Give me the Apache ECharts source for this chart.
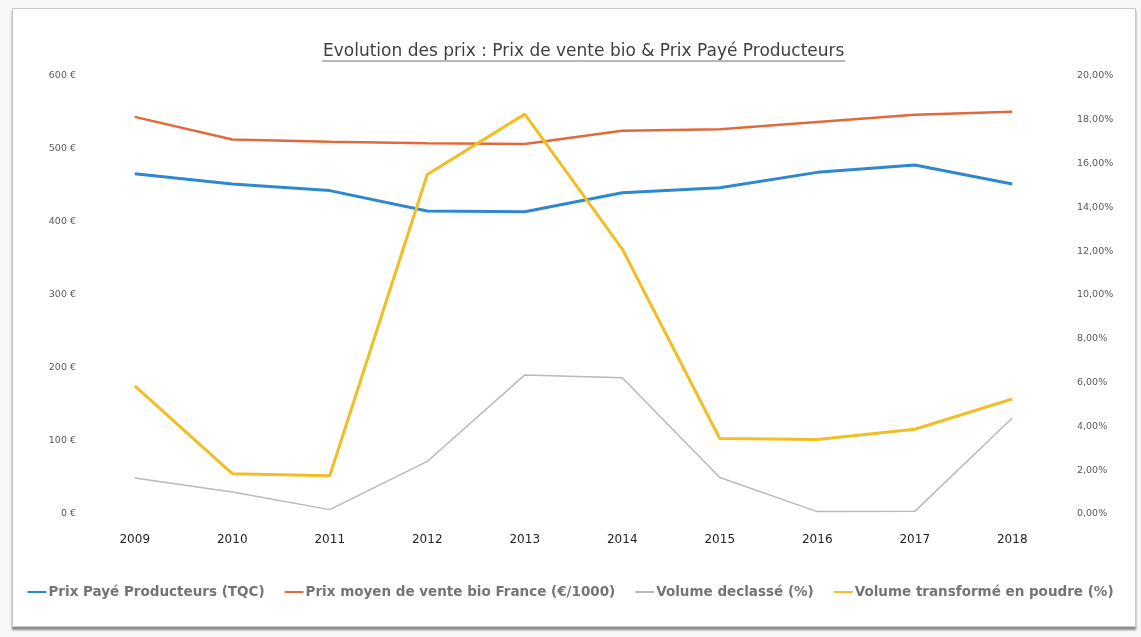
<!DOCTYPE html>
<html>
<head>
<meta charset="utf-8">
<script src="https://cdn.jsdelivr.net/npm/echarts@6/dist/echarts.min.js"></script>
<style>
  html, body { margin: 0; padding: 0; background: #f7f7f7; }
  #frame { position: absolute; left: 12px; top: 8px; width: 1122px; height: 617px;
           background: #ffffff; border: 1px solid #c8c8c8; box-shadow: 0 3px 2px #8a8a8a; }
  #main { position: absolute; left: 0; top: 0; width: 1141px; height: 637px; }
</style>
</head>
<body>
<div id="frame"></div>
<div id="main"></div>
<script>
// ---- data ----
const years = ['2009', '2010', '2011', '2012', '2013', '2014', '2015', '2016', '2017', '2018'];
const prixPaye = [466, 452, 443, 415, 414, 440, 447, 468, 478, 452];           // €
const prixVente = [544, 513, 510, 508, 507, 525, 527, 537, 547, 551];          // €
const volumeDeclasse = [1.64, 1.0, 0.2, 2.4, 6.35, 6.22, 1.67, 0.11, 0.12, 4.38]; // %
const volumePoudre = [5.85, 1.84, 1.75, 15.5, 18.26, 12.1, 3.45, 3.4, 3.87, 5.25]; // %
const seriesNames = ['Prix Payé Producteurs (TQC)', 'Prix moyen de vente bio France (€/1000)',
                     'Volume declassé (%)', 'Volume transformé en poudre (%)'];
const titleText = 'Evolution des prix : Prix de vente bio & Prix Payé Producteurs';

const FONT = '"DejaVu Sans", "Liberation Sans", sans-serif';
const chart = echarts.init(document.getElementById('main'), null, { renderer: 'canvas' });

chart.setOption({
  backgroundColor: 'transparent',
  animation: false,
  title: {
    text: titleText,
    left: 318,
    top: 38,
    textStyle: { fontFamily: FONT, fontSize: 17, fontWeight: 'normal', color: '#404040' }
  },
  graphic: [{
    type: 'line',
    shape: { x1: 322, y1: 61, x2: 845, y2: 61 },
    style: { stroke: '#707070', lineWidth: 1 }
  }],
  legend: {
    data: seriesNames,
    top: 580,
    left: 'center',
    icon: 'rect',
    itemWidth: 19,
    itemHeight: 2,
    itemGap: 20,
    textStyle: { fontFamily: FONT, fontSize: 13.5, fontWeight: 'bold', color: '#747474',
                 padding: [0, 0, 0, -3] }
  },
  grid: { left: 86, right: 80, top: 76, bottom: 123, containLabel: false },
  xAxis: {
    type: 'category',
    data: years,
    boundaryGap: true,
    axisLine: { show: false },
    axisTick: { show: false },
    axisLabel: { margin: 20, fontFamily: FONT, fontSize: 12, fontWeight: 'normal', color: '#222222' }
  },
  yAxis: [{
    type: 'value',
    min: 0, max: 600, interval: 100,
    splitLine: { show: false },
    axisLine: { show: false },
    axisTick: { show: false },
    axisLabel: { margin: 10, fontFamily: FONT, fontSize: 9.5, color: '#595959',
                 formatter: v => v + ' €' }
  }, {
    type: 'value',
    min: 0, max: 20, interval: 2,
    splitLine: { show: false },
    axisLine: { show: false },
    axisTick: { show: false },
    axisLabel: { margin: 16, fontFamily: FONT, fontSize: 9.5, color: '#595959',
                 formatter: v => v.toFixed(2).replace('.', ',') + '%' }
  }],
  series: [{
    name: seriesNames[0], type: 'line', yAxisIndex: 0, data: prixPaye,
    showSymbol: false, symbol: 'none',
    lineStyle: { color: '#2E88CF', width: 3 }, itemStyle: { color: '#2E88CF' }
  }, {
    name: seriesNames[1], type: 'line', yAxisIndex: 0, data: prixVente,
    showSymbol: false, symbol: 'none',
    lineStyle: { color: '#E06A3C', width: 2.5 }, itemStyle: { color: '#E06A3C' }
  }, {
    name: seriesNames[2], type: 'line', yAxisIndex: 1, data: volumeDeclasse,
    showSymbol: false, symbol: 'none',
    lineStyle: { color: '#B9B9B9', width: 1.5 }, itemStyle: { color: '#B9B9B9' }
  }, {
    name: seriesNames[3], type: 'line', yAxisIndex: 1, data: volumePoudre,
    showSymbol: false, symbol: 'none',
    lineStyle: { color: '#F1BE26', width: 3 }, itemStyle: { color: '#F1BE26' }
  }]
});
</script>
</body>
</html>
